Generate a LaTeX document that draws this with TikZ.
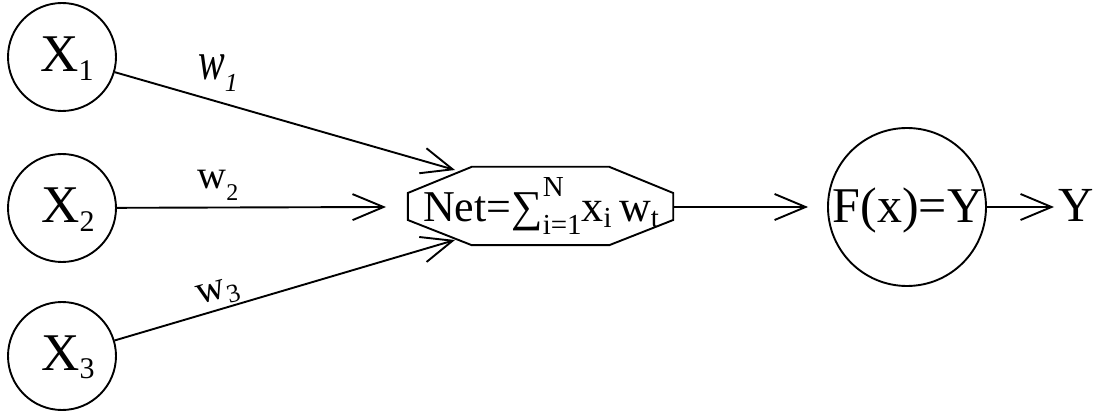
\documentclass[tikz,border=0pt]{standalone}
\usepackage{fontspec}
\setmainfont{Liberation Serif}
\usetikzlibrary{arrows.meta,calc}
\newcommand\lowtxt[3]{\raisebox{#1}{\fontsize{#2}{#2}\selectfont #3}}
\begin{document}
\begin{tikzpicture}[x=1pt,y=-1pt,
  neuron/.style={circle,draw,line width=1.9pt,inner sep=0pt,minimum size=#1},
  neuron/.default=108pt,
  bigtxt/.style={inner sep=0pt,anchor=base,font=\fontsize{53}{60}\selectfont},
  wtxt/.style={inner sep=0pt,anchor=base,font=\fontsize{40}{44}\selectfont},
  link/.style={line width=1.9pt,-{Straight Barb[length=31pt,width=26pt,line width=1.9pt]}},
  octaline/.style={line width=1.9pt,line join=miter},
  octa/.style={rectangle,inner sep=0pt,minimum width=265pt,minimum height=78pt}]
\useasboundingbox (0,0) rectangle (1101,414);
% input neurons
\node[neuron] (x1) at (62,57) {};
\node[neuron] (x2) at (62,208) {};
\node[neuron] (x3) at (62,356) {};
\node[bigtxt] (lx1) at (67,72) {X\lowtxt{-9pt}{30}{1}};
\node[bigtxt] (lx2) at (68,223) {X\lowtxt{-9pt}{30}{2}};
\node[bigtxt] (lx3) at (68,370) {X\lowtxt{-9pt}{30}{3}};
% summation octagon
\node[octa] (net) at (540.5,206) {};
\draw[octaline] (net.west |- 0,193) -- ($(net.north west)+(64,0)$) -- ($(net.north east)+(-64,0)$)
  -- (net.east |- 0,193) -- (net.east |- 0,220) -- ($(net.south east)+(-64,0)$)
  -- ($(net.south west)+(64,0)$) -- (net.west |- 0,220) -- cycle;
\node[inner sep=0pt,anchor=base,font=\fontsize{44}{50}\selectfont] (nettxt) at (541,222)
  {Net=∑\rlap{\lowtxt{25pt}{29}{N}}\lowtxt{-13pt}{29}{i=1}x\lowtxt{-6pt}{29}{i}\,w\lowtxt{-6pt}{29}{t}};
% activation
\node[neuron=158pt] (f) at (907,207) {};
\node[bigtxt,font=\fontsize{50}{56}\selectfont] (ftxt) at (908,223) {F(x)=Y};
\node[bigtxt,anchor=base west,font=\fontsize{49}{56}\selectfont] (yout) at (1058,222) {Y};
% arrow tips
\coordinate (t1) at (455,170);
\coordinate (t2) at (386,207);
\coordinate (t3) at (455,240);
\draw[link] (x1) -- (t1);
\draw[link] (x2) -- (t2);
\draw[link] (x3) -- (t3);
\draw[link,shorten >=19pt] (net.east |- f) -- (f);
\draw[link,shorten >=4pt] (f.east) -- (yout.west |- f.east);
% weights
\node[wtxt] (w1) at (218,80) {\scalebox{1}[1.35]{\itshape w}\lowtxt{-12pt}{26}{\itshape 1}};
\node[wtxt] (w2) at (218,189) {w\lowtxt{-12pt}{24}{2}};
\node[wtxt,rotate=15] (w3) at (220,299) {w\lowtxt{-7pt}{26}{3}};
\end{tikzpicture}
\end{document}
